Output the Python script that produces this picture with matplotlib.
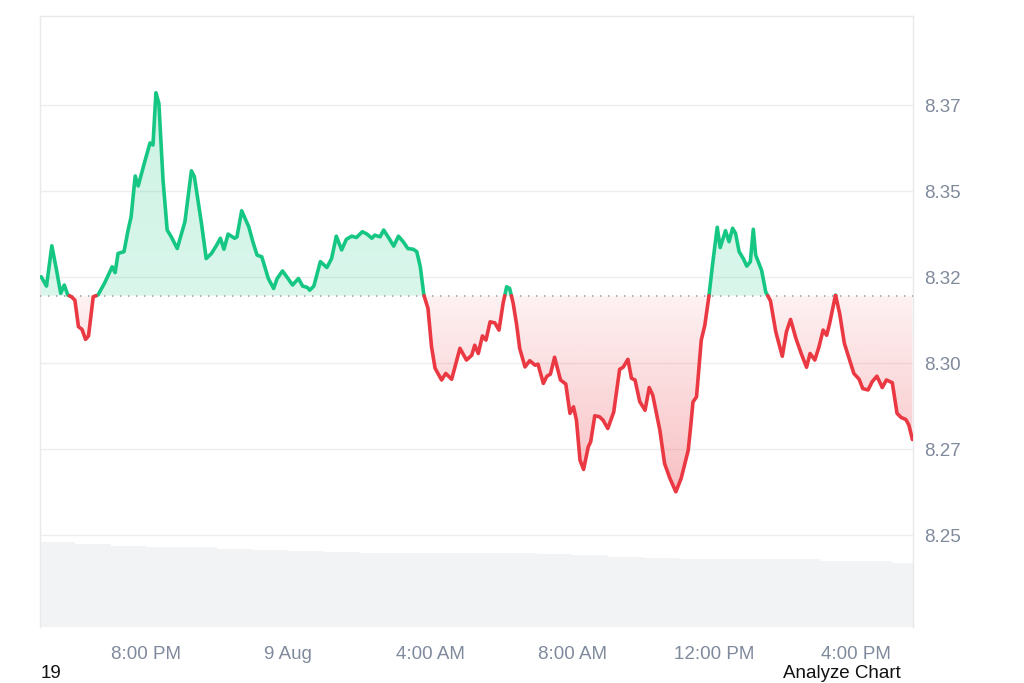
import numpy as np
import matplotlib.pyplot as plt
from matplotlib.colors import to_rgb
from matplotlib.patches import PathPatch
from matplotlib.path import Path

plt.rcParams['font.family'] = ['Liberation Sans', 'DejaVu Sans']

# minutes after 17:00 on 8 Aug
minutes = [2, 11, 20, 28, 35, 41, 47, 53, 59, 65, 71, 77, 82, 90, 98, 109, 122, 127,
           132, 142, 149, 154, 161, 166, 177, 186, 191, 196, 201, 208, 215, 222, 232,
           245, 256, 261, 273, 281, 290, 298, 305, 311, 318, 329, 333, 341, 353, 360,
           367, 375, 386, 395, 401, 410, 418, 427, 437, 444, 452, 456, 463, 474, 485,
           493, 501, 510, 518, 527, 535, 545, 553, 561, 566, 575, 581, 590, 598, 606,
           614, 622, 631, 637, 643, 649, 656, 662, 668, 679, 686, 696, 710, 721, 730,
           735, 741, 748, 754, 761, 769, 776, 783, 789, 794, 800, 806, 811, 820, 828,
           837, 842, 851, 857, 863, 870, 880, 889, 896, 902, 907, 913, 919, 927, 931,
           938, 946, 952, 960, 970, 980, 986, 994, 1000, 1006, 1014, 1023, 1030, 1036,
           1048, 1056, 1065, 1075, 1084, 1096, 1100, 1104, 1110, 1118, 1124, 1131, 1137,
           1145, 1150, 1159, 1165, 1171, 1176, 1182, 1189, 1195, 1201, 1206, 1210, 1220,
           1227, 1235, 1244, 1255, 1262, 1269, 1278, 1287, 1296, 1302, 1310, 1317, 1324,
           1330, 1335, 1345, 1352, 1360, 1368, 1376, 1385, 1391, 1400, 1407, 1415, 1424,
           1431, 1441, 1449, 1456, 1464, 1469, 1475]
price = [8.3251, 8.3224, 8.3341, 8.3270, 8.3203, 8.3227, 8.3198, 8.3193, 8.3183, 8.3106,
         8.3098, 8.3069, 8.3079, 8.3193, 8.3198, 8.3232, 8.3280, 8.3263, 8.3319, 8.3324,
         8.3387, 8.3425, 8.3544, 8.3515, 8.3585, 8.3640, 8.3634, 8.3786, 8.3755, 8.3532,
         8.3387, 8.3367, 8.3333, 8.3411, 8.3559, 8.3542, 8.3406, 8.3304, 8.3319, 8.3341,
         8.3363, 8.3331, 8.3375, 8.3363, 8.3367, 8.3443, 8.3396, 8.3352, 8.3314, 8.3309,
         8.3246, 8.3217, 8.3246, 8.3268, 8.3249, 8.3227, 8.3246, 8.3224, 8.3220, 8.3212,
         8.3224, 8.3295, 8.3278, 8.3304, 8.3369, 8.3329, 8.3360, 8.3369, 8.3365, 8.3382,
         8.3375, 8.3363, 8.3372, 8.3367, 8.3387, 8.3363, 8.3340, 8.3369, 8.3353, 8.3333,
         8.3331, 8.3324, 8.3280, 8.3198, 8.3159, 8.3047, 8.2985, 8.2951, 8.2970, 8.2953,
         8.3043, 8.3009, 8.3023, 8.3052, 8.3028, 8.3079, 8.3067, 8.3120, 8.3117, 8.3096,
         8.3174, 8.3222, 8.3217, 8.3174, 8.3110, 8.3043, 8.2989, 8.3007, 8.2994, 8.2997,
         8.2941, 8.2962, 8.2968, 8.3017, 8.2951, 8.2939, 8.2854, 8.2873, 8.2834, 8.2718,
         8.2691, 8.2757, 8.2771, 8.2847, 8.2844, 8.2834, 8.2810, 8.2858, 8.2982, 8.2988,
         8.3011, 8.2956, 8.2951, 8.2888, 8.2863, 8.2929, 8.2907, 8.2805, 8.2708, 8.2665,
         8.2626, 8.2665, 8.2747, 8.2814, 8.2887, 8.2902, 8.3067, 8.3110, 8.3195, 8.3285,
         8.3395, 8.3336, 8.3385, 8.3353, 8.3392, 8.3377, 8.3324, 8.3304, 8.3282, 8.3295,
         8.3389, 8.3314, 8.3270, 8.3207, 8.3181, 8.3091, 8.3020, 8.3091, 8.3127, 8.3072,
         8.3028, 8.2988, 8.3028, 8.3009, 8.3047, 8.3096, 8.3081, 8.3115, 8.3198, 8.3144,
         8.3057, 8.3014, 8.2970, 8.2953, 8.2926, 8.2922, 8.2946, 8.2962, 8.2929, 8.2951,
         8.2943, 8.2854, 8.2842, 8.2836, 8.2820, 8.2778]
base_price = 8.3196

# hourly volume (millions)
vol_hour = list(range(25))
volume = [42.6, 41.5, 40.5, 40.0, 39.8, 39.2, 38.5, 38.0, 37.5, 37.2, 37.0, 37.0, 37.0,
          36.8, 36.5, 36.0, 35.2, 34.5, 34.0, 34.0, 34.0, 33.8, 33.2, 33.0, 32.0]

ytick_vals = [8.25, 8.275, 8.30, 8.325, 8.35, 8.375]
ytick_labels = ['8.25', '8.27', '8.30', '8.32', '8.35', '8.37']
xtick_vals = [180, 420, 660, 900, 1140, 1380]
xtick_labels = ['8:00 PM', '9 Aug', '4:00 AM', '8:00 AM', '12:00 PM', '4:00 PM']

GREEN = '#16c784'
RED = '#ea3943'
TXT = '#808a9d'
t_max = 1476
y_lo, y_hi = 8.2233, 8.4009

fig = plt.figure(figsize=(10.24, 6.83), dpi=100)
pos = [40 / 1024, 56 / 683, 873 / 1024, 611 / 683]

# volume bars behind
axv = fig.add_axes(pos, zorder=0)
axv.bar([h * 60 for h in vol_hour], volume, width=60, align='edge',
        color='#f2f3f5', linewidth=0)
axv.set_xlim(0, t_max)
axv.set_ylim(0, 305.5)
axv.axis('off')

ax = fig.add_axes(pos, zorder=1)
ax.patch.set_alpha(0)

t = np.array(minutes, float)
p = np.array(price, float)
tt, pp = [t[0]], [p[0]]
for i in range(1, len(t)):
    a, b = p[i - 1] - base_price, p[i] - base_price
    if a * b < 0:
        tt.append(t[i - 1] + (t[i] - t[i - 1]) * a / (a - b))
        pp.append(base_price)
    tt.append(t[i])
    pp.append(p[i])
tt = np.array(tt)
pp = np.array(pp)


def grad_fill(where, color, a_top, a_bot, y0, y1):
    poly = ax.fill_between(tt, pp, base_price, where=where, interpolate=True,
                           facecolor='none', edgecolor='none')
    path = Path.make_compound_path(*poly.get_paths())
    patch = PathPatch(path, transform=ax.transData, facecolor='none', edgecolor='none')
    ax.add_patch(patch)
    rgba = np.zeros((256, 1, 4))
    rgba[..., :3] = to_rgb(color)
    rgba[:, 0, 3] = np.linspace(a_top, a_bot, 256)
    im = ax.imshow(rgba, extent=[0, t_max, y0, y1], aspect='auto',
                   origin='upper', zorder=1, interpolation='bilinear')
    im.set_clip_path(patch)


grad_fill(pp >= base_price, GREEN, 0.22, 0.16, base_price, 8.38)
grad_fill(pp <= base_price, RED, 0.07, 0.32, 8.262, base_price)

up = np.where(pp >= base_price - 1e-9, pp, np.nan)
dn = np.where(pp <= base_price + 1e-9, pp, np.nan)
ax.plot(tt, up, color=GREEN, lw=2.6, zorder=4, solid_joinstyle='round',
        solid_capstyle='round')
ax.plot(tt, dn, color=RED, lw=2.6, zorder=4, solid_joinstyle='round',
        solid_capstyle='round')

ax.axhline(base_price, color='#9aa0ab', lw=1.2, linestyle=(0, (0.8, 4.0)), zorder=3)

for v in ytick_vals:
    ax.axhline(v, color='#eeeeee', lw=1, zorder=0.5)

ax.set_xlim(0, t_max)
ax.set_ylim(y_lo, y_hi)
ax.yaxis.tick_right()
ax.set_yticks(ytick_vals)
ax.set_yticklabels(ytick_labels)
ax.set_xticks(xtick_vals)
ax.set_xticklabels(xtick_labels)
ax.tick_params(axis='y', length=0, pad=8, labelsize=13.5, labelcolor=TXT)
ax.tick_params(axis='x', length=0, pad=14, labelsize=13.5, labelcolor=TXT)
for s in ['top', 'left', 'right']:
    ax.spines[s].set_color('#e9e9ec')
    ax.spines[s].set_linewidth(1)
ax.spines['bottom'].set_visible(False)

fig.text(783 / 1024, 10 / 683, 'Analyze Chart', fontsize=13.5, color='#111111',
         ha='left', va='center')
fig.text(41 / 1024, 1 / 683, '19', fontsize=13.5, color='#111111',
         ha='left', va='bottom')

fig.savefig('out.png', dpi=100)
